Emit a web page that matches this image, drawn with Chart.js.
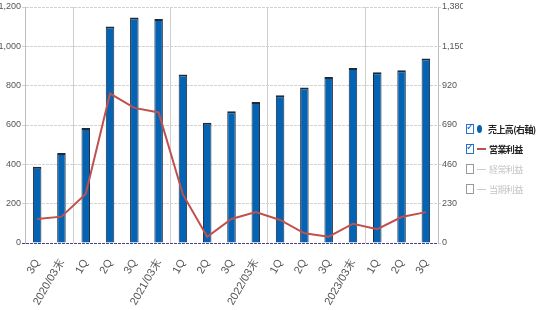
<!DOCTYPE html>
<html>
<head>
<meta charset="utf-8">
<script src="https://cdn.jsdelivr.net/npm/chart.js@4"></script>
<style>
  html, body { margin: 0; padding: 0; background: #fff; }
  #wrap { position: relative; width: 537px; height: 310px; }
  #legend { position: absolute; left: 466px; top: 119px; font-family: "Noto Sans CJK JP", sans-serif; font-size: 9px; }
  #legend div { height: 20px; display: flex; align-items: center; white-space: nowrap; letter-spacing: -0.6px; }
  .box { display: inline-block; width: 6px; height: 8px; border: 1px solid #9a9a9a; margin-right: 3px; position: relative; background: #fff; }
  .box.on { border-color: #2b6fcf; }
  .box.on::after { content: "✓"; position: absolute; left: -1px; top: -4px; font: bold 10px "DejaVu Sans"; color: #1c5fc4; letter-spacing: 0; }
  .dot { display: inline-block; width: 5px; height: 8px; border-radius: 50%; background: #0563b4; margin-right: 6px; }
  .ln { display: inline-block; width: 9px; height: 2px; margin-right: 3px; }
</style>
</head>
<body>
<div id="wrap">
  <canvas id="chart" width="537" height="310"></canvas>
  <div id="legend">
    <div style="color:#222;font-weight:bold"><span class="box on"></span><span class="dot"></span>売上高(右軸)</div>
    <div style="color:#222;font-weight:bold"><span class="box on"></span><span class="ln" style="background:#c0504d"></span>営業利益</div>
    <div style="color:#c4c4c4"><span class="box"></span><span class="ln" style="background:#ccc;height:1px"></span>経常利益</div>
    <div style="color:#c4c4c4"><span class="box"></span><span class="ln" style="background:#ccc;height:1px"></span>当期利益</div>
  </div>
</div>
<script>
// quarters
const labels = ['3Q', '2020/03末', '1Q', '2Q', '3Q', '2021/03末', '1Q', '2Q', '3Q', '2022/03末', '1Q', '2Q', '3Q', '2023/03末', '1Q', '2Q', '3Q'];
// 売上高 (right axis)
const sales = [446, 526, 672, 1266, 1318, 1310, 985, 703, 771, 825, 864, 909, 971, 1024, 999, 1010, 1079];
// 営業利益 (left axis)
const opProfit = [122, 134, 249, 760, 687, 664, 247, 32, 122, 157, 117, 49, 32, 98, 70, 132, 157];
// fiscal year boundaries (grid line index)
const yearLines = [2, 6, 10, 14];

const tickFont = { family: 'Liberation Sans', size: 9 };

new Chart(document.getElementById('chart').getContext('2d'), {
    data: {
        labels: labels,
        datasets: [{
            type: 'line',
            label: '営業利益',
            data: opProfit,
            yAxisID: 'y',
            borderColor: '#c0504d',
            borderWidth: 2,
            pointRadius: 0,
            tension: 0,
            order: 0
        }, {
            type: 'bar',
            label: '売上高(右軸)',
            data: sales,
            yAxisID: 'y1',
            backgroundColor: '#0563b4',
            borderColor: '#1e2a3a',
            borderWidth: { top: 2, left: 1, right: 1, bottom: 0 },
            borderSkipped: false,
            categoryPercentage: 1,
            barPercentage: 0.35,
            order: 1
        }]
    },
    options: {
        responsive: false,
        animation: false,
        layout: { padding: { left: 0, top: 7, right: 74, bottom: 0 } },
        plugins: { legend: { display: false }, tooltip: { enabled: false } },
        scales: {
            x: {
                afterFit: s => { s.height = 67; },
                grid: {
                    offset: true,
                    drawTicks: false,
                    color: c => yearLines.includes(c.index) ? '#cfcfcf' : 'rgba(0,0,0,0)'
                },
                border: { display: false },
                ticks: {
                    autoSkip: false,
                    minRotation: 60,
                    maxRotation: 60,
                    padding: 14,
                    color: '#555',
                    font: { family: 'Liberation Sans', size: 11 }
                }
            },
            y: {
                position: 'left',
                min: 0,
                max: 1200,
                afterFit: s => { s.width = 25; },
                ticks: {
                    stepSize: 200,
                    padding: 1,
                    color: '#555',
                    font: tickFont,
                    callback: v => v.toLocaleString('en-US')
                },
                grid: {
                    tickLength: 3,
                    color: c => c.tick && c.tick.value === 0 ? '#4a3f8c' : '#d2d2d2'
                },
                border: { color: '#bdbdbd', dash: [3, 1] }
            },
            y1: {
                position: 'right',
                min: 0,
                max: 1380,
                afterFit: s => { s.width = 25; },
                ticks: {
                    stepSize: 230,
                    padding: 1,
                    color: '#555',
                    font: tickFont,
                    callback: v => v.toLocaleString('en-US')
                },
                grid: { drawOnChartArea: false, tickLength: 3, color: '#d2d2d2' },
                border: { color: '#bdbdbd' }
            }
        }
    }
});
</script>
</body>
</html>
